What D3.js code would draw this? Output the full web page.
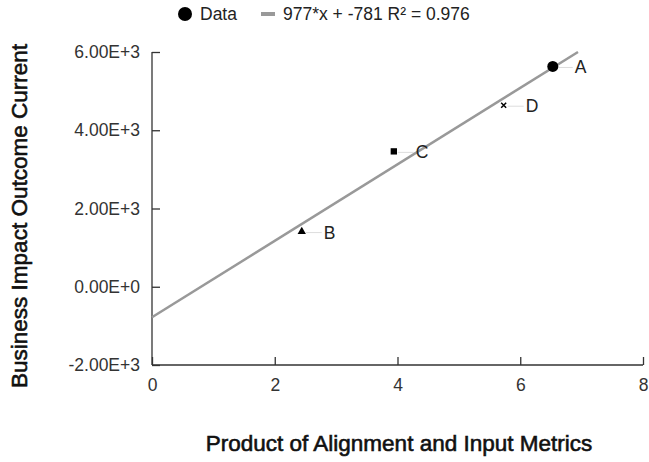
<!DOCTYPE html>
<html>
<head>
<meta charset="utf-8">
<script src="https://cdn.jsdelivr.net/npm/d3@7"></script>
<style>
    body { margin: 0; background: #fff; }
    text { font-family: 'Liberation Sans', Arial, sans-serif; }
    .axis path, .axis line { stroke: #333; stroke-width: 1.3; }
    .axis text { font-size: 17.5px; fill: #333; }
    .title { font-size: 22.5px; fill: #111; stroke: #111; stroke-width: 0.6; }
</style>
</head>
<body>
<div id="vis"></div>
<script>
// data
var labels = ['A', 'B', 'C', 'D'];
var shapes = ['circle', 'triangle', 'square', 'cross'];
var xValues = [6.53, 2.44, 3.94, 5.73];
var yValues = [5630, 1410, 3460, 4640];
var xTicks = [0, 2, 4, 6, 8];
var yTicks = [-2000, 0, 2000, 4000, 6000];
var fitSlope = 977;
var fitIntercept = -781;
var fitLabel = '977*x + -781 R\u00b2 = 0.976';

var width = 649;
var height = 462;
var margin = { left: 152, right: 6, top: 52, bottom: 97 };
var drawWidth = width - margin.left - margin.right;
var drawHeight = height - margin.top - margin.bottom;

var svg = d3.select('#vis').append('svg')
    .attr('width', width)
    .attr('height', height);

var g = svg.append('g')
    .attr('transform', 'translate(' + margin.left + ',' + margin.top + ')');

var xScale = d3.scaleLinear().domain([0, 8]).range([0, 491]);
var yScale = d3.scaleLinear().domain([-2000, 6000]).range([drawHeight, 0]);

// axes, ticks pointing inward
var xAxis = d3.axisBottom(xScale).tickValues(xTicks).tickSize(-8).tickPadding(14)
    .tickFormat(d3.format('d'));
var yAxis = d3.axisLeft(yScale).tickValues(yTicks).tickSize(-8).tickPadding(12)
    .tickFormat(function(d) {
        if (d === 0) return '0.00E+0';
        var e = Math.floor(Math.log10(Math.abs(d)));
        return (d / Math.pow(10, e)).toFixed(2) + 'E+' + e;
    });

g.append('g').attr('class', 'axis')
    .attr('transform', 'translate(0,' + drawHeight + ')')
    .call(xAxis)
    .call(function(s) { s.select('.domain').attr('d', 'M0,0H' + xScale(8)); });

g.append('g').attr('class', 'axis')
    .call(yAxis)
    .call(function(s) { s.select('.domain').attr('d', 'M0,0V' + drawHeight); });

// regression line, stops where it leaves the top of the plot
var xEnd = (6000 - fitIntercept) / fitSlope;
g.append('line')
    .attr('x1', xScale(0)).attr('y1', yScale(fitIntercept))
    .attr('x2', xScale(xEnd)).attr('y2', yScale(fitSlope * xEnd + fitIntercept))
    .attr('stroke', '#999').attr('stroke-width', 2.5);

var points = labels.map(function(d, i) {
    return { label: d, shape: shapes[i], x: xValues[i], y: yValues[i] };
});

// leader lines and labels
g.selectAll('.leader').data(points).enter().append('line')
    .attr('class', 'leader')
    .attr('x1', function(d) { return xScale(d.x) + 4; })
    .attr('x2', function(d) { return xScale(d.x) + 20; })
    .attr('y1', function(d) { return yScale(d.y) + 1; })
    .attr('y2', function(d) { return yScale(d.y) + 1; })
    .attr('stroke', '#ddd').attr('stroke-width', 1);

g.selectAll('.lbl').data(points).enter().append('text')
    .attr('class', 'lbl')
    .attr('x', function(d) { return xScale(d.x) + 22; })
    .attr('y', function(d) { return yScale(d.y) + 7; })
    .attr('font-size', 17.5)
    .attr('fill', '#222')
    .text(function(d) { return d.label; });

var symbolType = {
    circle: d3.symbolCircle, triangle: d3.symbolTriangle,
    square: d3.symbolSquare, cross: d3.symbolX
};
var symbolSize = { circle: 95, triangle: 30, square: 40, cross: 18 };

g.selectAll('.pt').data(points).enter().append('path')
    .attr('class', 'pt')
    .attr('transform', function(d) { return 'translate(' + xScale(d.x) + ',' + yScale(d.y) + ')'; })
    .attr('d', function(d) { return d3.symbol().type(symbolType[d.shape]).size(symbolSize[d.shape])(); })
    .attr('fill', '#000')
    .attr('stroke', function(d) { return d.shape === 'cross' ? '#000' : 'none'; })
    .attr('stroke-width', 1.5);

// legend
var legend = svg.append('g');
legend.append('circle').attr('cx', 185).attr('cy', 14).attr('r', 7).attr('fill', '#000');
legend.append('text').attr('x', 200).attr('y', 20).attr('font-size', 17.5).attr('fill', '#222').text('Data');
legend.append('line').attr('x1', 261).attr('x2', 275).attr('y1', 14).attr('y2', 14)
    .attr('stroke', '#999').attr('stroke-width', 4);
legend.append('text').attr('x', 283).attr('y', 20).attr('font-size', 17.5).attr('fill', '#222').text(fitLabel);

// axis titles
svg.append('text').attr('class', 'title')
    .attr('text-anchor', 'middle')
    .attr('x', 399).attr('y', 451)
    .text('Product of Alignment and Input Metrics');

svg.append('text').attr('class', 'title')
    .attr('text-anchor', 'middle')
    .attr('transform', 'translate(27,' + 216 + ') rotate(-90)')
    .text('Business Impact Outcome Current');
</script>
</body>
</html>
